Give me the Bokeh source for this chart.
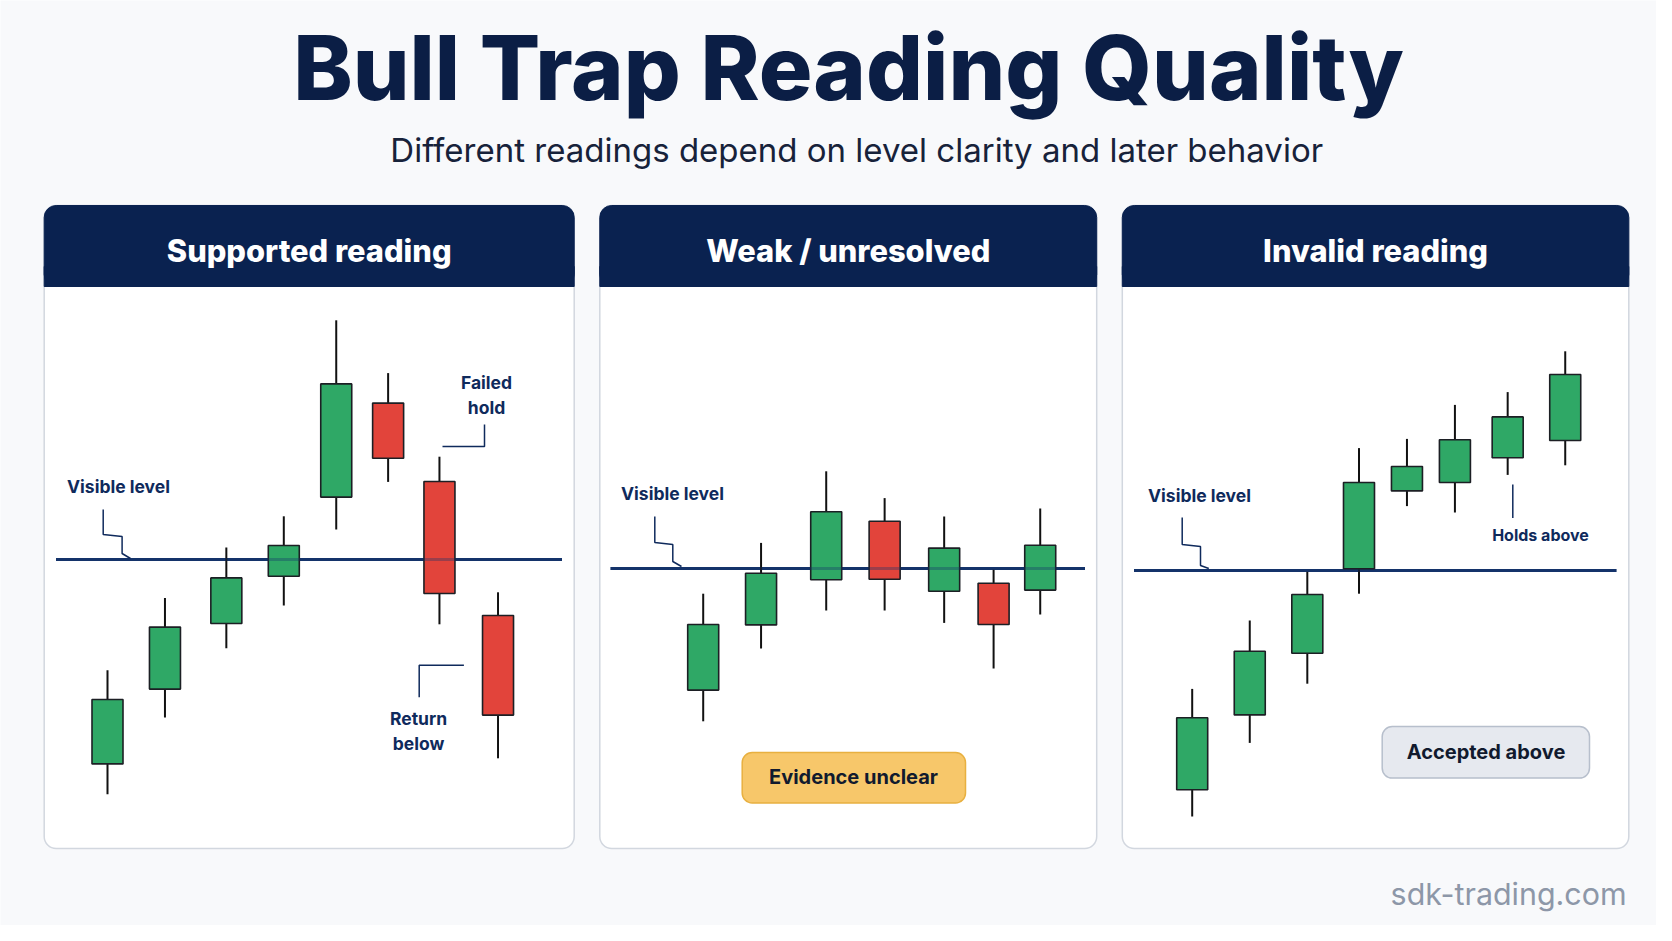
import numpy as np
from bokeh.plotting import figure
from bokeh.models import Range1d, ColumnDataSource
from bokeh.core.properties import value
from bokeh.embed import file_html
from bokeh.resources import INLINE

# ---------------- data ----------------
title = "Bull Trap Reading Quality"
subtitle = "Different readings depend on level clarity and later behavior"
panel_titles = ["Supported reading", "Weak / unresolved", "Invalid reading"]
footer = "sdk-trading.com"
level_price = 100.0

# panel 1 : supported reading
p1_t = [1.0, 2.03, 3.13, 4.16, 5.10, 6.03, 6.95, 8.0]
p1_open = [48.9, 67.6, 84.0, 95.8, 115.6, 139.1, 119.5, 86.0]
p1_high = [72.3, 90.4, 103.0, 110.8, 159.8, 146.6, 125.7, 91.8]
p1_low = [41.3, 60.5, 77.8, 88.5, 107.5, 119.4, 83.8, 50.3]
p1_close = [65.0, 83.1, 95.4, 103.5, 143.9, 125.3, 91.5, 61.1]

# panel 2 : weak / unresolved
p2_t = [1.0, 2.03, 3.19, 4.23, 5.29, 6.17, 7.0]
p2_open = [69.6, 85.9, 97.2, 111.8, 94.3, 96.3, 94.6]
p2_high = [93.7, 106.4, 124.3, 117.6, 113.0, 99.7, 115.0]
p2_low = [61.8, 80.0, 89.5, 89.5, 86.4, 75.0, 88.5]
p2_close = [86.0, 98.8, 114.2, 97.3, 105.1, 86.0, 105.8]

# panel 3 : invalid reading
p3_t = [1.0, 2.08, 3.16, 4.13, 5.03, 5.93, 6.92, 8.0]
p3_open = [45.2, 63.9, 79.3, 100.4, 119.9, 122.0, 128.2, 132.5]
p3_high = [70.4, 87.5, 99.7, 130.6, 132.9, 141.4, 144.6, 154.8]
p3_low = [38.5, 56.9, 71.7, 94.2, 116.1, 114.5, 123.9, 126.3]
p3_close = [63.2, 79.8, 94.0, 122.0, 126.0, 132.7, 138.4, 149.0]

# ---------------- layout / style ----------------
W, H = 1656, 925
X0, X1, Y0, Y1 = 0, 1656, 0, 925
BG = "#f8f9fb"
NAVY = "#0a2250"
LEVEL_C = "#15336a"
LABEL_C = "#0f2a5c"
GREEN = "#2fa866"
RED = "#e2443b"
EDGE = "#1c1f24"
FONT = "Inter"
HEAVY = "Inter ExtraBold, Inter"

panel_x = [(43.7, 573.7), (599.3, 1096.2), (1121.8, 1628.3)]
panel_top, header_bot, panel_bot = 205, 286, 848
# (pixel x of bar 1, pixels per bar, pixel y of level, pixels per price unit)
maps = [(107.0, 55.79, 559.0, 4.0), (702.7, 56.17, 568.0, 4.0), (1191.7, 53.29, 570.0, 4.0)]
level_span = [(55.5, 561.5), (610.0, 1084.5), (1133.5, 1616.0)]
BODY_PX = 31

p = figure(width=W, height=H, x_range=Range1d(X0, X1), y_range=Range1d(Y1, Y0),
           output_backend="svg", toolbar_location=None, min_border=0)
p.axis.visible = False
p.grid.visible = False
p.outline_line_color = None
p.background_fill_color = BG
p.border_fill_color = BG

def txt(x, y, s, size, color, style="bold", align="center", font=FONT):
    # y is the wanted baseline
    p.text(x=[x], y=[y - 0.375 * size], text=[s], text_font=value(font), text_font_size=f"{size}px",
           text_font_style=style, text_color=color, text_align=align, text_baseline="alphabetic")

# title
txt(848, 101, title, 89.5, "#0b1e45", font=HEAVY)
txt(803 * 1.0663, 162, subtitle, 33, "#17223a", style="normal")

# panels
for (l, r), name in zip(panel_x, panel_titles):
    p.quad(left=[l], right=[r], top=[panel_top], bottom=[panel_bot], fill_color="white",
           line_color="#d2d7df", line_width=1.5, border_radius=12)
    p.quad(left=[l], right=[r], top=[panel_top], bottom=[header_bot], fill_color=NAVY,
           line_color=NAVY, line_width=1, border_radius=12)
    p.quad(left=[l], right=[r], top=[header_bot - 20], bottom=[header_bot], fill_color=NAVY,
           line_color=NAVY, line_width=1)
    txt((l + r) / 2, 262, name, 30.8, "white", font=HEAVY)

datasets = [
    (p1_t, p1_open, p1_high, p1_low, p1_close),
    (p2_t, p2_open, p2_high, p2_low, p2_close),
    (p3_t, p3_open, p3_high, p3_low, p3_close),
]

for k, ((t, o, h, lo, c), (xa, ppb, ya, ppu), (lx0, lx1)) in enumerate(zip(datasets, maps, level_span)):
    xr, yr = f"x{k}", f"y{k}"
    p.extra_x_ranges[xr] = Range1d(1 - (xa - X0) / ppb, 1 + (X1 - xa) / ppb)
    p.extra_y_ranges[yr] = Range1d(level_price - (Y1 - ya) / ppu, level_price + (ya - Y0) / ppu)
    o = np.array(o); c = np.array(c)
    src = ColumnDataSource(dict(t=t, high=h, low=lo, top=np.maximum(o, c), bottom=np.minimum(o, c),
                                color=[GREEN if cc >= oo else RED for oo, cc in zip(o, c)]))
    p.segment(x0=[lx0], x1=[lx1], y0=[level_price], y1=[level_price], y_range_name=yr,
              line_color=LEVEL_C, line_width=3)
    p.segment(x0="t", x1="t", y0="high", y1="low", source=src, x_range_name=xr, y_range_name=yr,
              line_color="#111111", line_width=2)
    p.vbar(x="t", width=BODY_PX / ppb, top="top", bottom="bottom", source=src,
           x_range_name=xr, y_range_name=yr, fill_color="color", line_color=EDGE, line_width=1.6)
    p.segment(x0=[lx0], x1=[lx1], y0=[level_price], y1=[level_price], y_range_name=yr,
              line_color=LEVEL_C, line_width=3, line_alpha=0.35)

# callout connectors
conn = [
    ([102.7, 102.7, 121.6, 121.6, 130.0], [509, 534, 536, 553, 558]),
    ([654.3, 654.3, 672.3, 672.3, 681.0], [516, 542, 544, 561, 566]),
    ([1181.7, 1181.7, 1200.0, 1200.0, 1208.3], [517, 544, 546, 565, 568]),
    ([442.0, 484.0, 484.0], [446, 446, 424]),
    ([463.4, 418.7, 418.7], [664.7, 664.7, 696.7]),
    ([1512.3, 1512.3], [484, 517.4]),
]
for xs, ys in conn:
    p.line(xs, ys, line_color=LABEL_C, line_width=1.5)

# labels
LS = 17.5
txt(118, 492.5, "Visible level", LS, LABEL_C)
txt(672, 500, "Visible level", LS, LABEL_C)
txt(1199, 502, "Visible level", LS, LABEL_C)
txt(486, 389, "Failed", LS, LABEL_C)
txt(486, 414, "hold", LS, LABEL_C)
txt(418, 725, "Return", LS, LABEL_C)
txt(418, 750, "below", LS, LABEL_C)
txt(1540, 540, "Holds above", 16, LABEL_C)

# outcome boxes
p.quad(left=[741.7], right=[965], top=[752], bottom=[802.5], fill_color="#f7c76a",
       line_color="#e8b040", line_width=1.5, border_radius=10)
txt(853, 784, "Evidence unclear", 20, "#111a2e")
p.quad(left=[1381.7], right=[1589], top=[726], bottom=[777.6], fill_color="#e6e9ef",
       line_color="#b7bfcc", line_width=1.5, border_radius=10)
txt(1485.5, 759, "Accepted above", 20, "#111a2e")

# footer
txt(1626, 905, footer, 30.4, "#8d97a8", style="normal", align="right")

open("out.html", "w").write(file_html(p, INLINE))
